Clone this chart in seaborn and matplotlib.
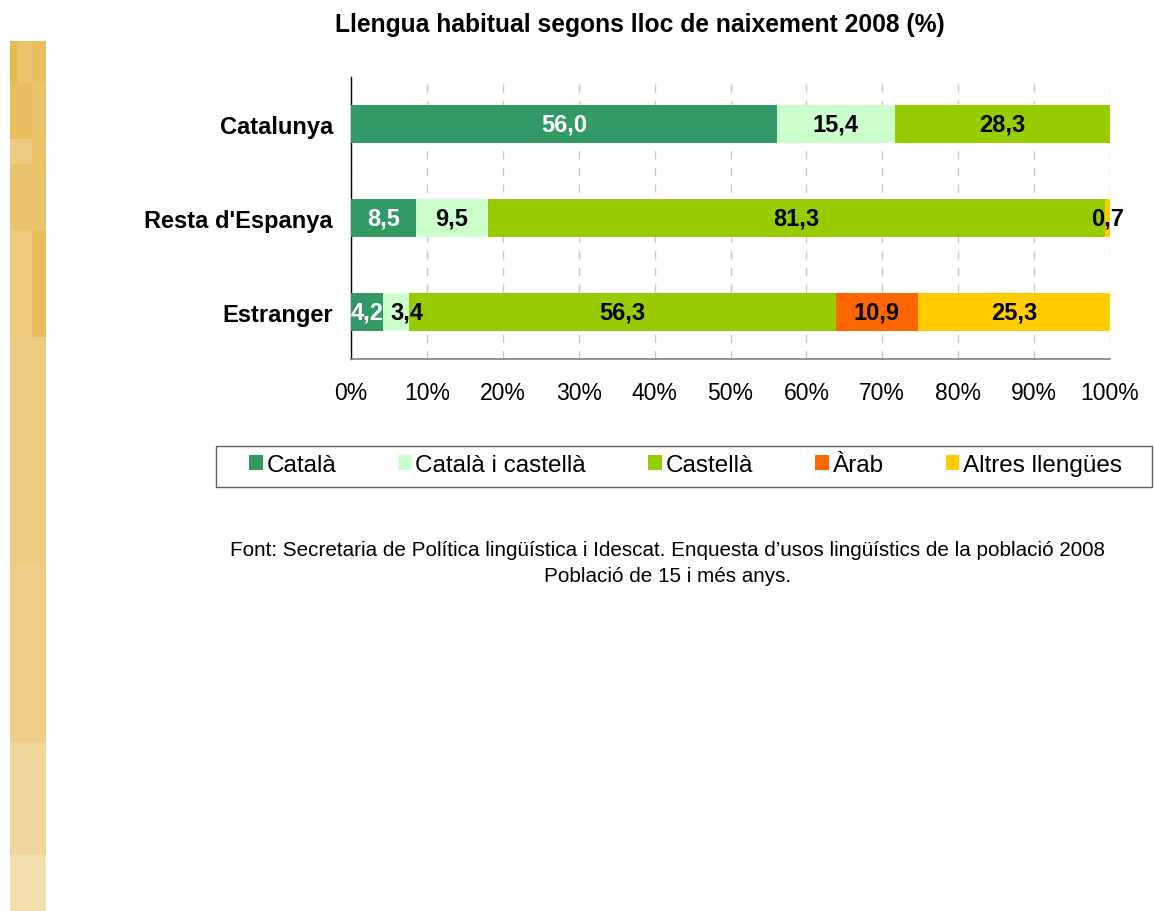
import numpy as np
import pandas as pd
import matplotlib
matplotlib.use("Agg")
import matplotlib.pyplot as plt
import seaborn as sns
from matplotlib.patches import Rectangle, Patch
from matplotlib.ticker import FixedLocator, PercentFormatter

sns.set_theme(style="white")
plt.rcParams["font.family"] = ["Liberation Sans", "DejaVu Sans"]
plt.rcParams["text.color"] = "black"
plt.rcParams["axes.labelcolor"] = "black"
plt.rcParams["xtick.color"] = "black"
plt.rcParams["ytick.color"] = "black"

# ---- data ----
categories = ["Catalunya", "Resta d'Espanya", "Estranger"]
series = ["Català", "Català i castellà", "Castellà", "Àrab", "Altres llengües"]
catala = [56.0, 8.5, 4.2]
catala_castella = [15.4, 9.5, 3.4]
castella = [28.3, 81.3, 56.3]
arab = [0.0, 0.0, 10.9]
altres = [0.0, 0.7, 25.3]
colors = ["#339966", "#CCFFCC", "#99CC00", "#FF6600", "#FFCC00"]
label_colors = ["white", "black", "black", "black", "black"]
title = "Llengua habitual segons lloc de naixement 2008 (%)"
source = ("Font: Secretaria de Política lingüística i Idescat. Enquesta d\u2019usos lingüístics de la població 2008\n"
          "Població de 15 i més anys.")

values = np.array([catala, catala_castella, castella, arab, altres])
totals = values.sum(axis=0)
shares = values / totals * 100.0
cum = np.cumsum(shares, axis=0)

W, H = 1154, 912
fig = plt.figure(figsize=(W / 100, H / 100), dpi=100)


def frect(x0, y0, x1, y1, **kw):
    return Rectangle((x0 / W, 1 - y1 / H), (x1 - x0) / W, (y1 - y0) / H,
                     transform=fig.transFigure, **kw)


# decorative left strip (x0, y0, x1, y1, colour)
strip = [
    (10, 42, 18, 84, "#E8BA52"), (18, 42, 32, 84, "#EBC46C"), (32, 42, 46, 84, "#E9BE5E"),
    (10, 84, 32, 140, "#E9BE5E"), (32, 84, 46, 140, "#EAC46C"),
    (10, 140, 32, 165, "#EDCB80"), (32, 140, 46, 165, "#EAC26A"),
    (10, 165, 46, 231, "#EAC46C"),
    (10, 231, 32, 338, "#EDCA7C"), (32, 231, 46, 338, "#E8BC5A"),
    (10, 338, 46, 567, "#EDCB80"), (10, 567, 46, 743, "#EECE88"),
    (10, 743, 46, 856, "#F0D69C"), (10, 856, 46, 912, "#F2DEAE"),
]
for x0, y0, x1, y1, c in strip:
    fig.patches.append(frect(x0, y0, x1, y1, facecolor=c, edgecolor="none", zorder=0))

ax = fig.add_axes([351 / W, 1 - 360 / H, 759 / W, 282 / H])

for i in reversed(range(len(series))):
    df = pd.DataFrame({"cat": categories, "val": cum[i]})
    sns.barplot(data=df, x="val", y="cat", orient="h", color=colors[i],
                width=0.41, saturation=1, ax=ax, zorder=3, linewidth=0)

# value labels (small segments next to a previous label get nudged right, like Excel)
nudge_px = {(1, 2): 11}
for i in range(len(series)):
    for j, cat in enumerate(categories):
        if values[i, j] <= 0:
            continue
        center = cum[i, j] - shares[i, j] / 2
        ax.annotate(f"{values[i, j]:.1f}".replace(".", ","), xy=(center, j),
                    xytext=(nudge_px.get((i, j), 0) * 0.72, 0), textcoords="offset points",
                    ha="center", va="center", fontsize=17, fontweight="bold",
                    color=label_colors[i], zorder=5)

ax.set_xlim(0, 100)
ax.set_ylim(2.5, -0.5)
ax.set_xlabel("")
ax.set_ylabel("")
ax.xaxis.set_major_locator(FixedLocator(np.arange(0, 101, 10)))
ax.xaxis.set_major_formatter(PercentFormatter(decimals=0))
ax.grid(axis="x", color="#C8C8C8", linestyle=(0, (6, 6)), linewidth=1, zorder=0)
ax.grid(axis="y", visible=False)

for s in ["top", "right"]:
    ax.spines[s].set_visible(False)
ax.spines["left"].set_color("black")
ax.spines["left"].set_linewidth(1)
ax.spines["bottom"].set_color("#808080")
ax.spines["bottom"].set_linewidth(1.2)

ax.tick_params(axis="x", direction="out", length=4, width=1, color="#606060",
               labelsize=16.5, pad=12, labelcolor="black")
ax.tick_params(axis="y", which="major", length=0, pad=13, labelsize=17, labelcolor="black")
for lbl in ax.get_yticklabels():
    lbl.set_fontweight("bold")
ax.yaxis.set_minor_locator(FixedLocator([-0.5, 0.5, 1.5, 2.5]))
ax.tick_params(axis="y", which="minor", direction="out", length=5, width=1, color="black")

fig.text(640 / W, 1 - 25 / H, title, ha="center", va="center",
         fontsize=17.7, fontweight="bold")

# legend box + entries
fig.patches.append(frect(216, 447, 1152, 488, facecolor="white", edgecolor="#606060",
                         linewidth=1, zorder=1))
handles = [Patch(facecolor=c, edgecolor="none") for c in colors]
leg = fig.legend(handles, series, loc="center left", ncol=5,
                 bbox_to_anchor=(249 / W, 1 - 466 / H), frameon=False,
                 fontsize=17.5, handlelength=0.56, handleheight=0.56, handletextpad=0.15,
                 columnspacing=2.56, borderpad=0, borderaxespad=0)
leg.set_zorder(2)

fig.text(667 / W, 1 - 563.5 / H, source, ha="center", va="center",
         fontsize=14.85, linespacing=1.4)

fig.savefig("out.png", dpi=100)
